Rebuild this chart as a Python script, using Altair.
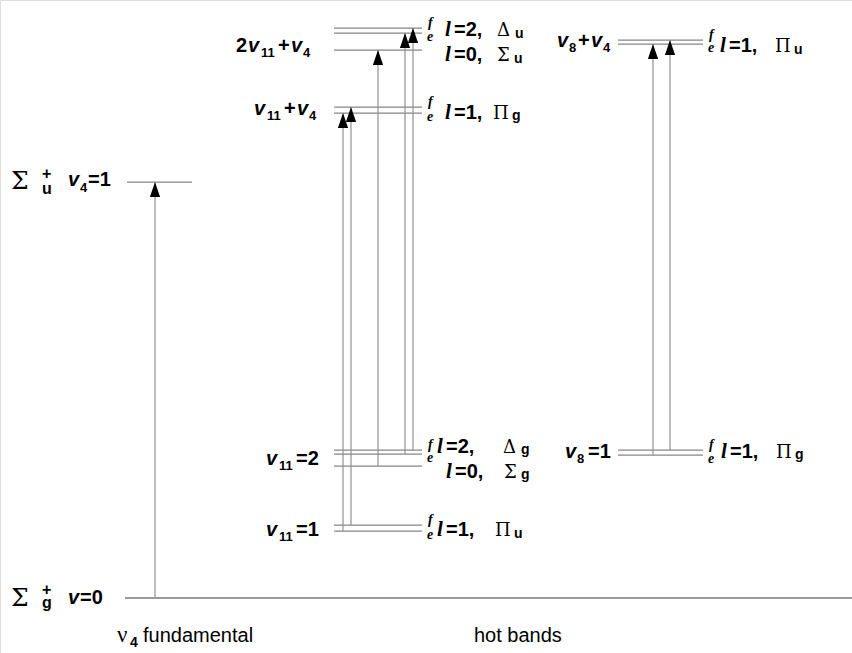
import altair as alt
import pandas as pd

# ---------------------------------------------------------------------------
# Vibrational levels (energy in arbitrary units, ground state = 0)
# ---------------------------------------------------------------------------
level_key = ["g0", "v4",
             "v11_1f", "v11_1e", "v11_2Df", "v11_2De", "v11_2S",
             "v11v4f", "v11v4e", "2v11v4Df", "2v11v4De", "2v11v4S",
             "v8_1f", "v8_1e", "v8v4f", "v8v4e"]
level_energy = [0, 416,
                73, 67, 148, 144, 132,
                491, 485, 570, 565, 548,
                148, 143, 558, 554]
level_column = ["ground", "fund",
                "hot1", "hot1", "hot1", "hot1", "hot1",
                "hot1", "hot1", "hot1", "hot1", "hot1",
                "hot2", "hot2", "hot2", "hot2"]

# Transitions drawn as upward arrows (lower level -> upper level)
trans_lower = ["g0", "v11_1e", "v11_1f", "v11_2S", "v11_2De", "v11_2Df", "v8_1e", "v8_1f"]
trans_upper = ["v4", "v11v4e", "v11v4f", "2v11v4S", "2v11v4De", "2v11v4Df", "v8v4e", "v8v4f"]

# e/f parity pairs that get the small "f" / "e" tags
parity_pairs = [("2v11v4Df", "2v11v4De"), ("v11v4f", "v11v4e"),
                ("v11_2Df", "v11_2De"), ("v11_1f", "v11_1e"),
                ("v8v4f", "v8v4e"), ("v8_1f", "v8_1e")]

# ---------------------------------------------------------------------------
# Layout
# ---------------------------------------------------------------------------
W, H = 852, 653
Y0 = 598          # pixel row of the ground state
column_span = {"ground": (125, 852), "fund": (127, 192),
               "hot1": (334, 422), "hot2": (618, 703)}
arrow_x = [155, 343, 351, 378, 405, 413, 653, 670]
tag_x = {"hot1": 428, "hot2": 709}

energy = dict(zip(level_key, level_energy))
column = dict(zip(level_key, level_column))


def e_of(py):
    """pixel row -> energy units used by the y scale"""
    return Y0 - py


def py_of(e):
    return Y0 - e


levels = pd.DataFrame({
    "key": level_key,
    "E": level_energy,
    "x0": [column_span[c][0] for c in level_column],
    "x1": [column_span[c][1] for c in level_column],
})
levels["ground"] = levels["key"] == "g0"

arrows = pd.DataFrame({
    "x": arrow_x,
    "E0": [energy[k] for k in trans_lower],
    "E1": [energy[k] for k in trans_upper],
})

# label pieces: (style, text, x, baseline row, font size)
pieces = [
    # fundamental column
    ("greek", "Σ", 11, 189, 25), ("bold", "+", 42, 179, 16), ("bold", "u", 42, 194, 16),
    ("vital", "v", 68, 186, 20), ("bold", "4", 80, 192, 13), ("bold", "=1", 88, 186, 20),
    ("greek", "Σ", 11, 606, 25), ("bold", "+", 42, 595, 16), ("bold", "g", 42, 608, 16),
    ("vital", "v", 68, 604, 20), ("bold", "=0", 80, 604, 20),
    # captions
    ("nu", "ν", 117, 642, 23), ("bold", "4", 130, 647, 14), ("plain", "fundamental", 143, 642, 20),
    ("plain", "hot bands", 474, 642, 20),
    # nu11 hot-band column
    ("bold", "2", 236, 52, 20), ("vital", "v", 248, 52, 20), ("bold", "11", 261, 57, 13),
    ("bold", "+", 278, 52, 20), ("vital", "v", 291, 52, 20), ("bold", "4", 303, 57, 13),
    ("vital", "v", 254, 115, 20), ("bold", "11", 267, 120, 13),
    ("bold", "+", 284, 115, 20), ("vital", "v", 297, 115, 20), ("bold", "4", 309, 120, 13),
    ("vital", "v", 266, 465, 20), ("bold", "11", 279, 470, 13), ("bold", "=2", 296, 465, 20),
    ("vital", "v", 266, 536, 20), ("bold", "11", 279, 541, 13), ("bold", "=1", 296, 536, 20),
    ("lital", "l", 445, 36, 21), ("bold", "=2,", 454, 36, 20), ("greek", "Δ", 497, 36, 18), ("bold", "u", 515, 38, 14),
    ("lital", "l", 445, 61, 21), ("bold", "=0,", 454, 61, 20), ("greek", "Σ", 497, 61, 18), ("bold", "u", 514, 63, 14),
    ("lital", "l", 445, 119, 21), ("bold", "=1,", 454, 119, 20), ("greek", "Π", 493, 119, 18), ("bold", "g", 512, 120, 14),
    ("lital", "l", 437, 453, 21), ("bold", "=2,", 446, 453, 20), ("greek", "Δ", 503, 453, 18), ("bold", "g", 521, 454, 14),
    ("lital", "l", 446, 478, 21), ("bold", "=0,", 455, 478, 20), ("greek", "Σ", 504, 478, 18), ("bold", "g", 521, 479, 14),
    ("lital", "l", 437, 536, 21), ("bold", "=1,", 446, 536, 20), ("greek", "Π", 495, 536, 18), ("bold", "u", 514, 538, 14),
    # nu8 hot-band column
    ("vital", "v", 557, 47, 20), ("bold", "8", 569, 52, 13), ("bold", "+", 578, 47, 20),
    ("vital", "v", 591, 47, 20), ("bold", "4", 603, 52, 13),
    ("lital", "l", 720, 52, 21), ("bold", "=1,", 729, 52, 20), ("greek", "Π", 775, 52, 18), ("bold", "u", 794, 54, 14),
    ("vital", "v", 565, 458, 20), ("bold", "8", 577, 463, 13), ("bold", "=1", 588, 458, 20),
    ("lital", "l", 721, 458, 21), ("bold", "=1,", 730, 458, 20), ("greek", "Π", 776, 458, 18), ("bold", "g", 795, 459, 14),
]

# f / e parity tags next to each split level
for kf, ke in parity_pairs:
    xt = tag_x[column[kf]]
    pieces.append(("tag", "f", xt, py_of(energy[kf]) - 1, 14))
    pieces.append(("tag", "e", xt - 1, py_of(energy[ke]) + 8, 14))

labels = pd.DataFrame(pieces, columns=["style", "text", "x", "py", "size"])
labels["E"] = labels["py"].apply(e_of)

# ---------------------------------------------------------------------------
# Scales and layers
# ---------------------------------------------------------------------------
xs = alt.Scale(domain=[0, W], range=[0, W], nice=False, zero=False)
ys = alt.Scale(domain=[e_of(H), e_of(0)], range=[H, 0], nice=False, zero=False)

X = lambda f: alt.X(f, type="quantitative", scale=xs, axis=None)
Y = lambda f: alt.Y(f, type="quantitative", scale=ys, axis=None)

level_rules = alt.Chart(levels).mark_rule(strokeCap="butt").encode(
    x=X("x0"), x2="x1", y=Y("E"),
    color=alt.condition("datum.ground", alt.value("#7a7a7a"), alt.value("#868686")),
    strokeWidth=alt.condition("datum.ground", alt.value(1.6), alt.value(1.25)),
)

shafts = alt.Chart(arrows).mark_rule(color="#959595", strokeWidth=1.25).encode(
    x=X("x"), y=Y("E0"), y2="E1",
)

# arrowhead: tip at the origin, base one unit below
heads = alt.Chart(arrows).mark_point(
    shape="M0,0L-0.34,1L0.34,1Z", filled=True, color="black", opacity=1,
    size=900, strokeWidth=0,
).encode(x=X("x"), y=Y("E1"))

sans = "Liberation Sans"
serif = "Liberation Serif"
styles = {
    "bold": dict(font=sans, fontWeight="bold", fontStyle="normal"),
    "vital": dict(font=sans, fontWeight="bold", fontStyle="italic"),
    "lital": dict(font=serif, fontWeight="bold", fontStyle="italic"),
    "tag": dict(font=serif, fontWeight="bold", fontStyle="italic"),
    "greek": dict(font="DejaVu Serif", fontWeight="normal", fontStyle="normal"),
    "nu": dict(font=serif, fontWeight="normal", fontStyle="normal"),
    "plain": dict(font=sans, fontWeight="normal", fontStyle="normal"),
}

text_layers = []
for name, st in styles.items():
    layer = alt.Chart(labels).transform_filter(
        alt.datum.style == name
    ).mark_text(align="left", baseline="alphabetic", color="black", **st).encode(
        x=X("x"), y=Y("E"), text="text:N",
        size=alt.Size("size:Q", scale=None, legend=None),
    )
    text_layers.append(layer)

chart = alt.layer(level_rules, shafts, heads, *text_layers).properties(
    width=W, height=H, autosize="none", padding=0,
).configure_view(stroke=None).configure(background="white")

chart.save("out.html", embed_options={"renderer": "svg", "actions": False})
